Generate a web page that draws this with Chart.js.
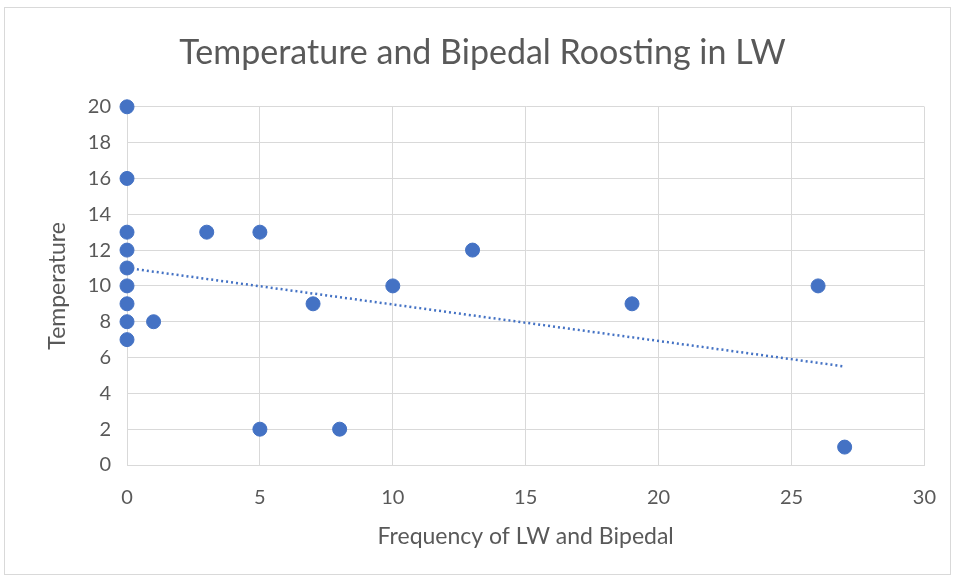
<!DOCTYPE html>
<html>
<head>
<meta charset="utf-8">
<script src="https://cdn.jsdelivr.net/npm/chart.js@4/dist/chart.umd.min.js"></script>
<style>
  html, body { margin: 0; padding: 0; background: #fff; }
  #wrap { width: 957px; height: 581px; position: relative; }
</style>
</head>
<body>
<div id="wrap"><canvas id="c" width="957" height="581"></canvas></div>
<script>
// frequency of LW + bipedal roosting vs temperature
const freqLW = [0, 0, 0, 0, 0, 0, 0, 0, 0, 1, 3, 5, 5, 7, 8, 10, 13, 19, 26, 27]
const temperature = [20, 16, 13, 12, 11, 10, 9, 8, 7, 8, 13, 13, 2, 9, 2, 10, 12, 9, 10, 1]
// linear trendline, read at its two ends
const trendX = [0, 27]
const trendY = [11.0, 5.5]

const blue = '#4472C4'
const grey = '#595959'
const gridGrey = '#d9d9d9'

const frame = {
    id: 'frame',
    beforeDraw(chart) {
        const { ctx } = chart
        ctx.save()
        ctx.fillStyle = '#fff'
        ctx.fillRect(0, 0, chart.width, chart.height)
        ctx.strokeStyle = '#d9d9d9'
        ctx.lineWidth = 1
        ctx.strokeRect(4.5, 7.5, 946, 567)
        ctx.restore()
    }
}

new Chart(document.getElementById('c'), {
    type: 'scatter',
    data: {
        datasets: [
            {
                data: freqLW.map((x, i) => ({ x: x, y: temperature[i] })),
                backgroundColor: blue,
                borderColor: blue,
                pointRadius: 7,
                pointHoverRadius: 7,
                clip: false,
                order: 1
            },
            {
                type: 'line',
                data: trendX.map((x, i) => ({ x: x, y: trendY[i] })),
                borderColor: blue,
                borderWidth: 2.5,
                borderDash: [2, 3],
                pointRadius: 0,
                fill: false,
                order: 2
            }
        ]
    },
    options: {
        responsive: false,
        animation: false,
        layout: { padding: { left: 40, right: 32, top: 8, bottom: 27 } },
        plugins: {
            legend: { display: false },
            tooltip: { enabled: false },
            title: {
                display: true,
                text: 'Temperature and Bipedal Roosting in LW',
                color: grey,
                font: { family: 'Lato', size: 34, weight: 'normal' },
                padding: { top: 25, bottom: 33 }
            }
        },
        scales: {
            x: {
                type: 'linear',
                min: 0,
                max: 30,
                ticks: { stepSize: 5, color: grey, font: { family: 'Lato', size: 20 }, padding: 21 },
                grid: { color: gridGrey, drawTicks: false },
                border: { color: gridGrey },
                title: { display: true, text: 'Frequency of LW and Bipedal', color: grey, font: { family: 'Lato', size: 23 } },
                afterFit(scale) { scale.height = 89 }
            },
            y: {
                min: 0,
                max: 20,
                ticks: { stepSize: 2, color: grey, font: { family: 'Lato', size: 20 }, padding: 16 },
                grid: { color: gridGrey, drawTicks: false },
                border: { color: gridGrey },
                title: { display: true, text: 'Temperature', color: grey, font: { family: 'Lato', size: 23 } },
                afterFit(scale) { scale.width = 87 }
            }
        }
    },
    plugins: [frame]
})
</script>
</body>
</html>
